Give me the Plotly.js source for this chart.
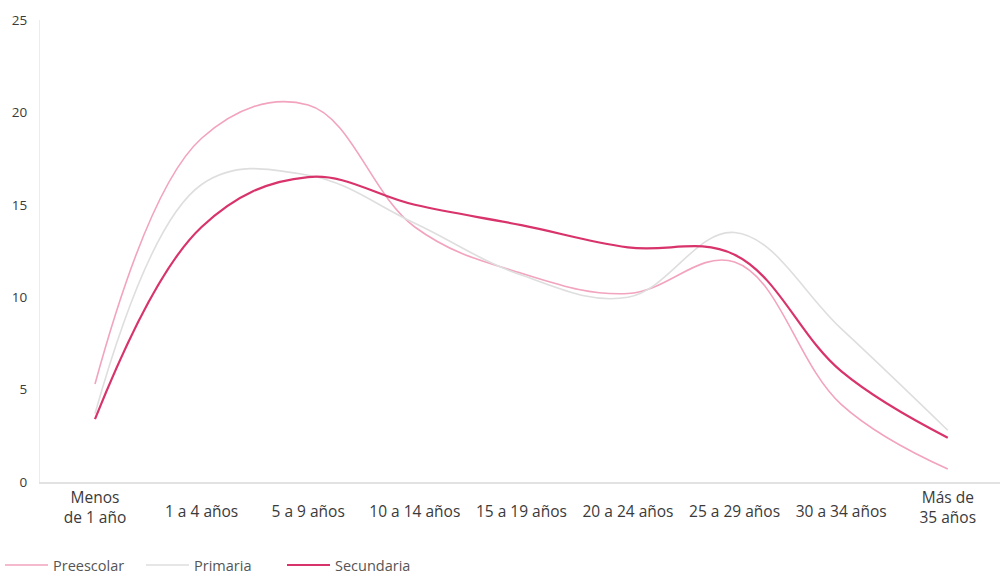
<!DOCTYPE html>
<html>
<head>
<meta charset="utf-8">
<script src="https://cdn.plot.ly/plotly-3.0.1.min.js"></script>
<style>
html,body{margin:0;padding:0;background:#fff;}
#chart{width:1007px;height:578px;}
</style>
</head>
<body>
<div id="chart"></div>
<script>
const categories = ["Menos<br>de 1 año","1 a 4 años","5 a 9 años","10 a 14 años","15 a 19 años","20 a 24 años","25 a 29 años","30 a 34 años","Más de<br>35 años"];
const preescolar = [5.3, 18.6, 20.4, 13.8, 11.3, 10.2, 11.9, 4.2, 0.7];
const primaria   = [3.7, 16.1, 16.6, 14.0, 11.2, 10.0, 13.5, 8.3, 2.8];
const secundaria = [3.4, 13.8, 16.5, 15.0, 13.9, 12.7, 12.3, 6.0, 2.4];
const yTicks = [0, 5, 10, 15, 20, 25];

const idx = categories.map((c, i) => i);
const twoLine = idx.filter(i => categories[i].includes("<br>"));
const oneLine = idx.filter(i => !categories[i].includes("<br>"));

const traces = [
  {x: idx, y: preescolar, name: "Preescolar", type: "scatter", mode: "lines",
   line: {shape: "spline", smoothing: 1.1, color: "#f2a3bd", width: 1.6}},
  {x: idx, y: primaria, name: "Primaria", type: "scatter", mode: "lines",
   line: {shape: "spline", smoothing: 1.1, color: "#dedede", width: 1.6}},
  {x: idx, y: secundaria, name: "Secundaria", type: "scatter", mode: "lines",
   line: {shape: "spline", smoothing: 1.1, color: "#d8336a", width: 2.2}},
  {x: idx, y: idx.map(() => null), xaxis: "x2", yaxis: "y", type: "scatter",
   mode: "lines", showlegend: false, hoverinfo: "skip"}
];

const xRange = [-0.516, 8.49];
const tickFont = {family: "Open Sans, sans-serif", size: 15.5, color: "#3a3a3a"};

const layout = {
  width: 1007, height: 578,
  margin: {l: 40, r: 7, t: 20, b: 96},
  paper_bgcolor: "#ffffff", plot_bgcolor: "#ffffff",
  font: {family: "Open Sans, sans-serif", size: 12, color: "#444"},
  xaxis: {
    range: xRange, automargin: false,
    tickmode: "array", tickvals: twoLine, ticktext: twoLine.map(i => categories[i]),
    showgrid: false, zeroline: false,
    showline: true, linecolor: "#e2e2e2", linewidth: 1.5,
    ticks: "", ticklabelstandoff: 1,
    tickfont: tickFont
  },
  xaxis2: {
    range: xRange, overlaying: "x", anchor: "y", side: "bottom", automargin: false,
    tickmode: "array", tickvals: oneLine, ticktext: oneLine.map(i => categories[i]),
    showgrid: false, zeroline: false, showline: false,
    ticks: "", ticklabelstandoff: 18,
    tickfont: tickFont
  },
  yaxis: {
    range: [0, 25], automargin: false,
    tickmode: "array", tickvals: yTicks,
    showgrid: false, zeroline: false,
    showline: true, linecolor: "#ececec", linewidth: 1,
    ticks: "", ticklabelstandoff: 9,
    tickfont: {size: 13.5, color: "#3a3a3a"}
  },
  showlegend: true,
  legend: {
    orientation: "h", xref: "container", yref: "container",
    x: 0, xanchor: "left", y: 0.05, yanchor: "top",
    font: {size: 14.5, color: "#555"}, itemwidth: 43,
    entrywidth: 83, entrywidthmode: "pixels", tracegroupgap: 0
  }
};

Plotly.newPlot("chart", traces, layout, {displayModeBar: false, staticPlot: true});
</script>
</body>
</html>
